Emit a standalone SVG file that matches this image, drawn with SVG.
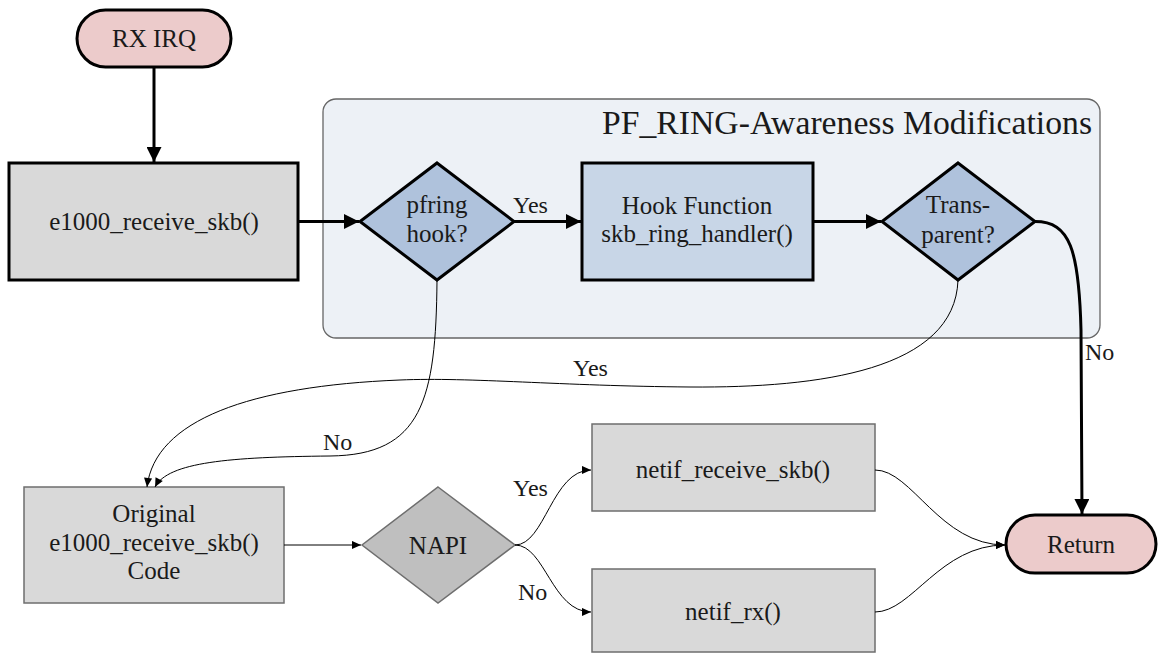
<svg xmlns="http://www.w3.org/2000/svg" width="1159" height="655" viewBox="0 0 1159 655">
  <defs>
    <marker id="arrowBig" viewBox="0 0 10 10" refX="10" refY="5" markerWidth="5" markerHeight="5" orient="auto" markerUnits="strokeWidth">
      <path d="M0,0 L10,5 L0,10 Z" fill="#000"/>
    </marker>
    <marker id="arrowSmall" viewBox="0 0 10 10" refX="10" refY="5" markerWidth="10" markerHeight="9" orient="auto" markerUnits="strokeWidth">
      <path d="M0,0.5 L10,5 L0,9.5 Z" fill="#000"/>
    </marker>
    <style>
      text { font-family: "Liberation Serif", "DejaVu Serif", serif; fill: #1a1a1a; }
      .node { font-size: 25px; text-anchor: middle; }
      .lbl { font-size: 24px; }
      .title { font-size: 33px; text-anchor: end; }
      .terminal { fill: #eccbcb; stroke: #000; stroke-width: 3; }
      .thickbox { fill: #d9d9d9; stroke: #000; stroke-width: 3; }
      .decision { fill: #afc2dc; stroke: #000; stroke-width: 3; }
      .hook { fill: #c8d6e7; stroke: #000; stroke-width: 3; }
      .thinbox { fill: #d9d9d9; stroke: #6e6e6e; stroke-width: 1.5; }
      .napi { fill: #bfbfbf; stroke: #6e6e6e; stroke-width: 1.5; }
      .thick { fill: none; stroke: #000; stroke-width: 3; marker-end: url(#arrowBig); }
      .thin { fill: none; stroke: #000; stroke-width: 1; marker-end: url(#arrowSmall); }
    </style>
  </defs>

  <rect width="1159" height="655" fill="#fff"/>

  <!-- PF_RING container -->
  <g id="pfring-region">
    <rect x="323" y="99" width="777" height="239" rx="13" ry="13" fill="#edf1f6" stroke="#666" stroke-width="1.3"/>
    <text class="title" x="1092" y="134" textLength="490" lengthAdjust="spacingAndGlyphs">PF_RING-Awareness Modifications</text>
  </g>

  <g id="rx-irq">
    <rect class="terminal" x="77" y="10" width="154" height="57" rx="28.5" ry="28.5"/>
    <text class="node" x="154" y="47">RX IRQ</text>
  </g>

  <g id="e1000-receive">
    <rect class="thickbox" x="9" y="163" width="289" height="117"/>
    <text class="node" x="154" y="230">e1000_receive_skb()</text>
  </g>

  <g id="pfring-hook">
    <polygon class="decision" points="437,163 514,221.5 437,280 360,221.5"/>
    <text class="node" x="437" y="213">pfring</text>
    <text class="node" x="437" y="242">hook?</text>
  </g>

  <g id="hook-function">
    <rect class="hook" x="582" y="163" width="231" height="117"/>
    <text class="node" x="697" y="214">Hook Function</text>
    <text class="node" x="697" y="242">skb_ring_handler()</text>
  </g>

  <g id="transparent">
    <polygon class="decision" points="958,163 1035,221.5 958,280 882,221.5"/>
    <text class="node" x="958" y="213">Trans-</text>
    <text class="node" x="958" y="243">parent?</text>
  </g>

  <g id="original-code">
    <rect class="thinbox" x="24" y="487" width="260" height="116"/>
    <text class="node" x="154" y="522">Original</text>
    <text class="node" x="154" y="551">e1000_receive_skb()</text>
    <text class="node" x="154" y="579">Code</text>
  </g>

  <g id="napi">
    <polygon class="napi" points="438,487 515,545 438,603 362,545"/>
    <text class="node" x="438" y="554">NAPI</text>
  </g>

  <g id="netif-receive">
    <rect class="thinbox" x="592" y="424" width="283" height="87"/>
    <text class="node" x="733" y="478">netif_receive_skb()</text>
  </g>

  <g id="netif-rx">
    <rect class="thinbox" x="592" y="569" width="283" height="83"/>
    <text class="node" x="733" y="620">netif_rx()</text>
  </g>

  <g id="return">
    <rect class="terminal" x="1006" y="515" width="150" height="58" rx="29" ry="29"/>
    <text class="node" x="1081" y="553">Return</text>
  </g>

  <!-- connectors -->
  <g id="connectors">
    <path class="thick" d="M154,67 L154,162"/>
    <path class="thick" d="M298,221.5 L359,221.5"/>
    <path class="thick" d="M514,221.5 L581,221.5"/>
    <path class="thick" d="M813,221.5 L881,221.5"/>
    <path class="thick" d="M1035,221.5 C1070,221.5 1079,250 1081,330 L1082,514"/>

    <path class="thin" d="M437,280 C436,400 422,455 330,456 C230,457 168,462 155,487"/>
    <path class="thin" d="M958,280 C955,370 820,388 690,387 C560,386 470,377 400,380 C250,386 155,420 147,487"/>

    <path class="thin" d="M284,545 L361,545"/>
    <path class="thin" d="M515,545 C545,545 552,470 591,470"/>
    <path class="thin" d="M515,545 C545,545 552,612 591,612"/>
    <path class="thin" d="M875,470 C912,470 940,545 1005,545"/>
    <path class="thin" d="M875,612 C912,612 940,545 1005,545"/>

    <text class="lbl" x="513" y="213">Yes</text>
    <text class="lbl" x="1085" y="360">No</text>
    <text class="lbl" x="573" y="376">Yes</text>
    <text class="lbl" x="323" y="450">No</text>
    <text class="lbl" x="513" y="496">Yes</text>
    <text class="lbl" x="518" y="600">No</text>
  </g>
</svg>
